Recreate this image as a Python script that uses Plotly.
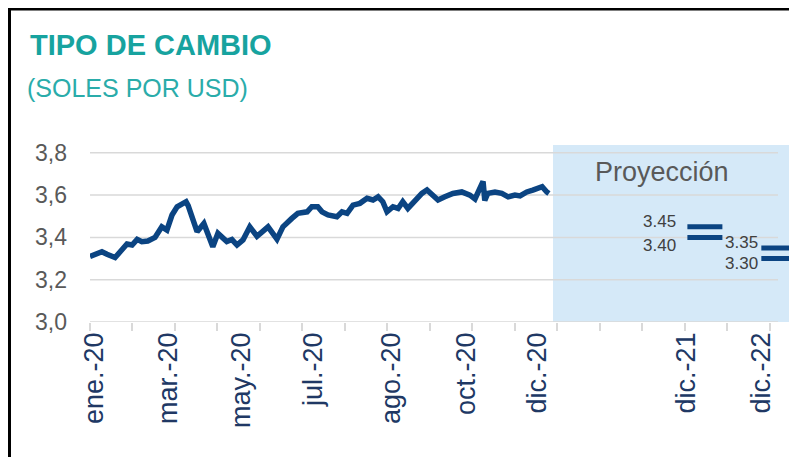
import plotly.graph_objects as go

# historical series, x in axis units (one unit per minor tick)
hist_x = [0.00, 0.12, 0.28, 0.40, 0.59, 0.71, 0.87, 0.99, 1.11, 1.22, 1.36, 1.53,
          1.69, 1.81, 1.93, 2.05, 2.19, 2.26, 2.31, 2.42, 2.52, 2.68, 2.78, 2.89,
          3.01, 3.13, 3.22, 3.34, 3.46, 3.60, 3.76, 3.93, 4.19, 4.40, 4.54, 4.75,
          4.89, 5.11, 5.22, 5.36, 5.46, 5.60, 5.81, 5.93, 6.05, 6.19, 6.35, 6.52,
          6.66, 6.78, 6.89, 6.99, 7.13, 7.25, 7.36, 7.48, 7.65, 7.81, 7.93, 8.05,
          8.19, 8.35, 8.54, 8.75, 8.94, 9.06, 9.18, 9.25, 9.29, 9.36, 9.53, 9.69,
          9.84, 10.00, 10.12, 10.28, 10.42, 10.64, 10.75, 10.80]
hist_y = [3.310, 3.320, 3.332, 3.320, 3.305, 3.332, 3.369, 3.364, 3.391, 3.380, 3.383, 3.400,
          3.450, 3.435, 3.506, 3.545, 3.564, 3.569, 3.550, 3.482, 3.427, 3.466, 3.420, 3.356,
          3.419, 3.400, 3.380, 3.390, 3.364, 3.388, 3.450, 3.405, 3.450, 3.392, 3.450, 3.490,
          3.514, 3.521, 3.545, 3.545, 3.521, 3.506, 3.498, 3.521, 3.514, 3.553, 3.561, 3.585,
          3.577, 3.592, 3.569, 3.521, 3.545, 3.537, 3.569, 3.537, 3.577, 3.608, 3.624, 3.600,
          3.577, 3.592, 3.608, 3.615, 3.600, 3.582, 3.640, 3.665, 3.575, 3.608, 3.615, 3.608,
          3.592, 3.600, 3.596, 3.615, 3.624, 3.640, 3.615, 3.608]

tick_pos = [0.09, 1.84, 3.55, 5.25, 7.1, 8.85, 10.52, 14.02, 15.79]
tick_text = ["ene.-20", "mar.-20", "may.-20", "jul.-20", "ago.-20", "oct.-20",
             "dic.-20", "dic.-21", "dic.-22"]
y_ticks = [3.0, 3.2, 3.4, 3.6, 3.8]

proj_x = [14.47, 16.21]
proj_hi = [3.45, 3.35]
proj_lo = [3.40, 3.30]

BLUE = "#0b4482"
TEAL = "#17a39f"
GRID = "#d9d9d9"
FONT = "Liberation Sans, Arial, sans-serif"

# the page body adds an 8px margin, so the figure is drawn 8px in and down
OFF = 8
W, H = 797 - OFF, 457 - OFF
# plot area in window pixels; the area runs past the last tick so the shading fits
L, R, T, B = 90, 792, 145, 322
X_MAX = 16.52     # axis value at the right edge of the plot area
X_END = 16.19     # where grid lines stop


def px(x):
    return (x - L) / (R - L)


def py(y):
    return (B - y) / (B - T)


fig = go.Figure()
fig.add_trace(go.Scatter(x=hist_x, y=hist_y, mode="lines",
                         line=dict(color=BLUE, width=5.5), hoverinfo="skip"))
for ys in (proj_hi, proj_lo):
    fig.add_trace(go.Scatter(x=proj_x, y=ys, mode="markers", cliponaxis=False,
                             marker=dict(symbol="line-ew", size=25,
                                         line=dict(color=BLUE, width=5))))

# projection shading
fig.add_shape(type="rect", xref="paper", yref="paper", x0=px(553), x1=1,
              y0=0, y1=1, fillcolor="#d5e9f8", line_width=0, layer="below")
# grid lines stopping short of the shading's right edge
for v in y_ticks:
    fig.add_shape(type="line", xref="x", yref="y", x0=0, x1=X_END, y0=v, y1=v,
                  line=dict(color=GRID, width=1.5), layer="below")
# frame (top and left edges of the original picture)
fig.add_shape(type="rect", xref="paper", yref="paper", x0=px(OFF + 1.5), x1=px(840),
              y0=py(490), y1=py(OFF + 1), line=dict(color="black", width=3))

fig.add_annotation(x=px(28), y=py(45), xref="paper", yref="paper", showarrow=False,
                   xanchor="left", yanchor="middle", text="<b>TIPO DE CAMBIO</b>",
                   font=dict(family=FONT, size=29, color=TEAL))
fig.add_annotation(x=px(25), y=py(88), xref="paper", yref="paper", showarrow=False,
                   xanchor="left", yanchor="middle", text="(SOLES POR USD)",
                   font=dict(family=FONT, size=25, color="#2aacaa"))
fig.add_annotation(x=13.46, y=3.709, showarrow=False, text="Proyección",
                   font=dict(family=FONT, size=27, color="#595959"))

lab_y = [(3.473, 3.364), (3.378, 3.279)]
shift = [-27, -19]
for i in range(2):
    for v, yy in zip((proj_hi[i], proj_lo[i]), lab_y[i]):
        fig.add_annotation(x=proj_x[i], y=yy, showarrow=False, xanchor="right",
                           xshift=shift[i], text=f"{v:.2f}",
                           font=dict(family=FONT, size=17, color="#404040"))

fig.update_layout(
    width=W, height=H, showlegend=False,
    margin=dict(l=L - OFF, r=W - (R - OFF), t=T - OFF, b=H - (B - OFF), pad=0),
    paper_bgcolor="white", plot_bgcolor="rgba(0,0,0,0)",
    separators=",.",
    font=dict(family=FONT),
)
fig.update_xaxes(range=[0, X_MAX], tickmode="array", tickvals=tick_pos, ticktext=tick_text,
                 tickangle=-90, ticks="", showgrid=False, zeroline=False,
                 showline=False, automargin=False, ticklabelstandoff=4,
                 tickfont=dict(size=27, color="#203864"),
                 minor=dict(tickmode="array", tickvals=list(range(17)), ticks="outside",
                            ticklen=8, tickcolor=GRID, tickwidth=1.5, showgrid=False))
fig.update_yaxes(range=[3.0, 3.837], tickvals=y_ticks, tickformat=".1f",
                 showgrid=False, zeroline=False, automargin=False,
                 ticks="", ticklabelstandoff=22,
                 tickfont=dict(size=23, color="#595959"))

fig.write_html("out.html")
